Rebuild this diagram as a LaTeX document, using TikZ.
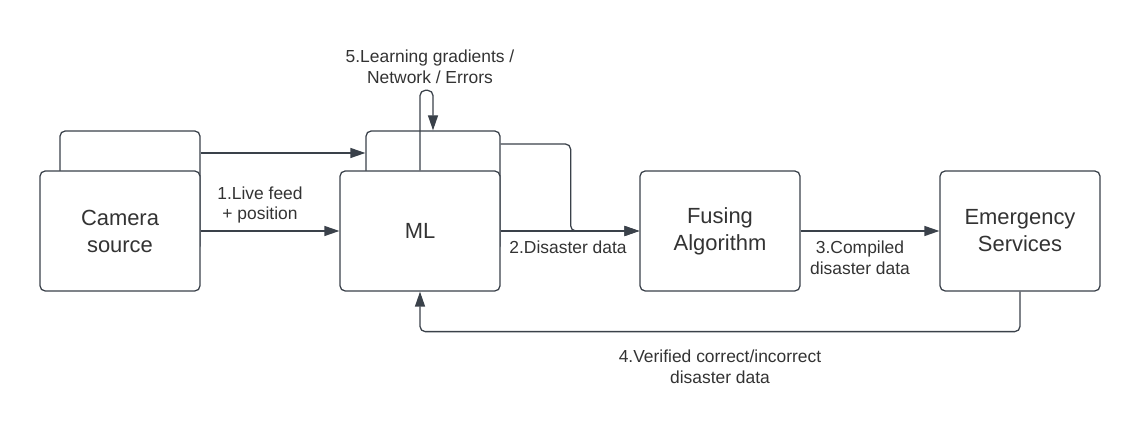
\documentclass[tikz,border=0pt]{standalone}
\usepackage{fontspec}
\setmainfont{Liberation Sans}
\usepackage{tikz}
\usetikzlibrary{arrows.meta}
\usetikzlibrary{positioning}

\definecolor{linegray}{HTML}{3A414A}
\definecolor{textgray}{HTML}{333333}

\tikzset{
  box/.style={draw=linegray, fill=white, line width=0.9pt, rounded corners=0.13cm,
    minimum width=4cm, minimum height=3cm, align=center, text=textgray,
    font=\fontsize{15.6}{19.2}\selectfont},
  backbox/.style={box, minimum width=3.5cm},
  conn/.style={draw=linegray, line width=0.9pt, -{Triangle[length=0.375cm,width=0.25cm]}},
  lbl/.style={align=center, text=textgray, font=\fontsize{12.4}{14.9}\selectfont}
}

\begin{document}
\begin{tikzpicture}
\useasboundingbox (0,0) rectangle (28.5,11.125);
% draws back boxes
\node[backbox] (camB) at (3.25,6.35) {};
\node[box, minimum width=3.35cm] (mlB) at (10.825,6.35) {};
% draws front boxes
\node[box] (cam) at (3,5.35) {Camera\\source};
\node[box] (ml) at (10.5,5.35) {ML};
\node[box] (fus) at (18,5.35) {Fusing\\Algorithm};
\node[box] (em) at (25.5,5.35) {Emergency\\Services};
% draws edges
\draw[conn] ([yshift=0.95cm]camB.east) -- ([yshift=0.95cm]mlB.west);
\draw[conn] (cam) -- (ml);
\draw[conn, rounded corners=0.13cm] ([yshift=1.175cm]mlB.east) -- ++(1.75,0) |- (fus.west);
\draw[conn] (ml) -- (fus);
\draw[conn] (fus) -- (em);
\draw[conn, rounded corners=0.13cm] (em.south) -- ++(0,-1) -| (ml.south);
\draw[conn, rounded corners=0.13cm] (ml.north) -- ++(0,2) -| (mlB.north);
% labels edges
\node[lbl] (l1) at (6.5,6.0) {1.Live feed\\+ position};
\node[lbl] (l2) at (14.2,4.95) {2.Disaster data};
\node[lbl] (l3) at (21.5,4.68) {3.Compiled\\disaster data};
\node[lbl] (l4) at (18,1.95) {4.Verified correct/incorrect\\disaster data};
\node[lbl] (l5) at (10.75,9.45) {5.Learning gradients /\\Network / Errors};
\end{tikzpicture}
\end{document}
